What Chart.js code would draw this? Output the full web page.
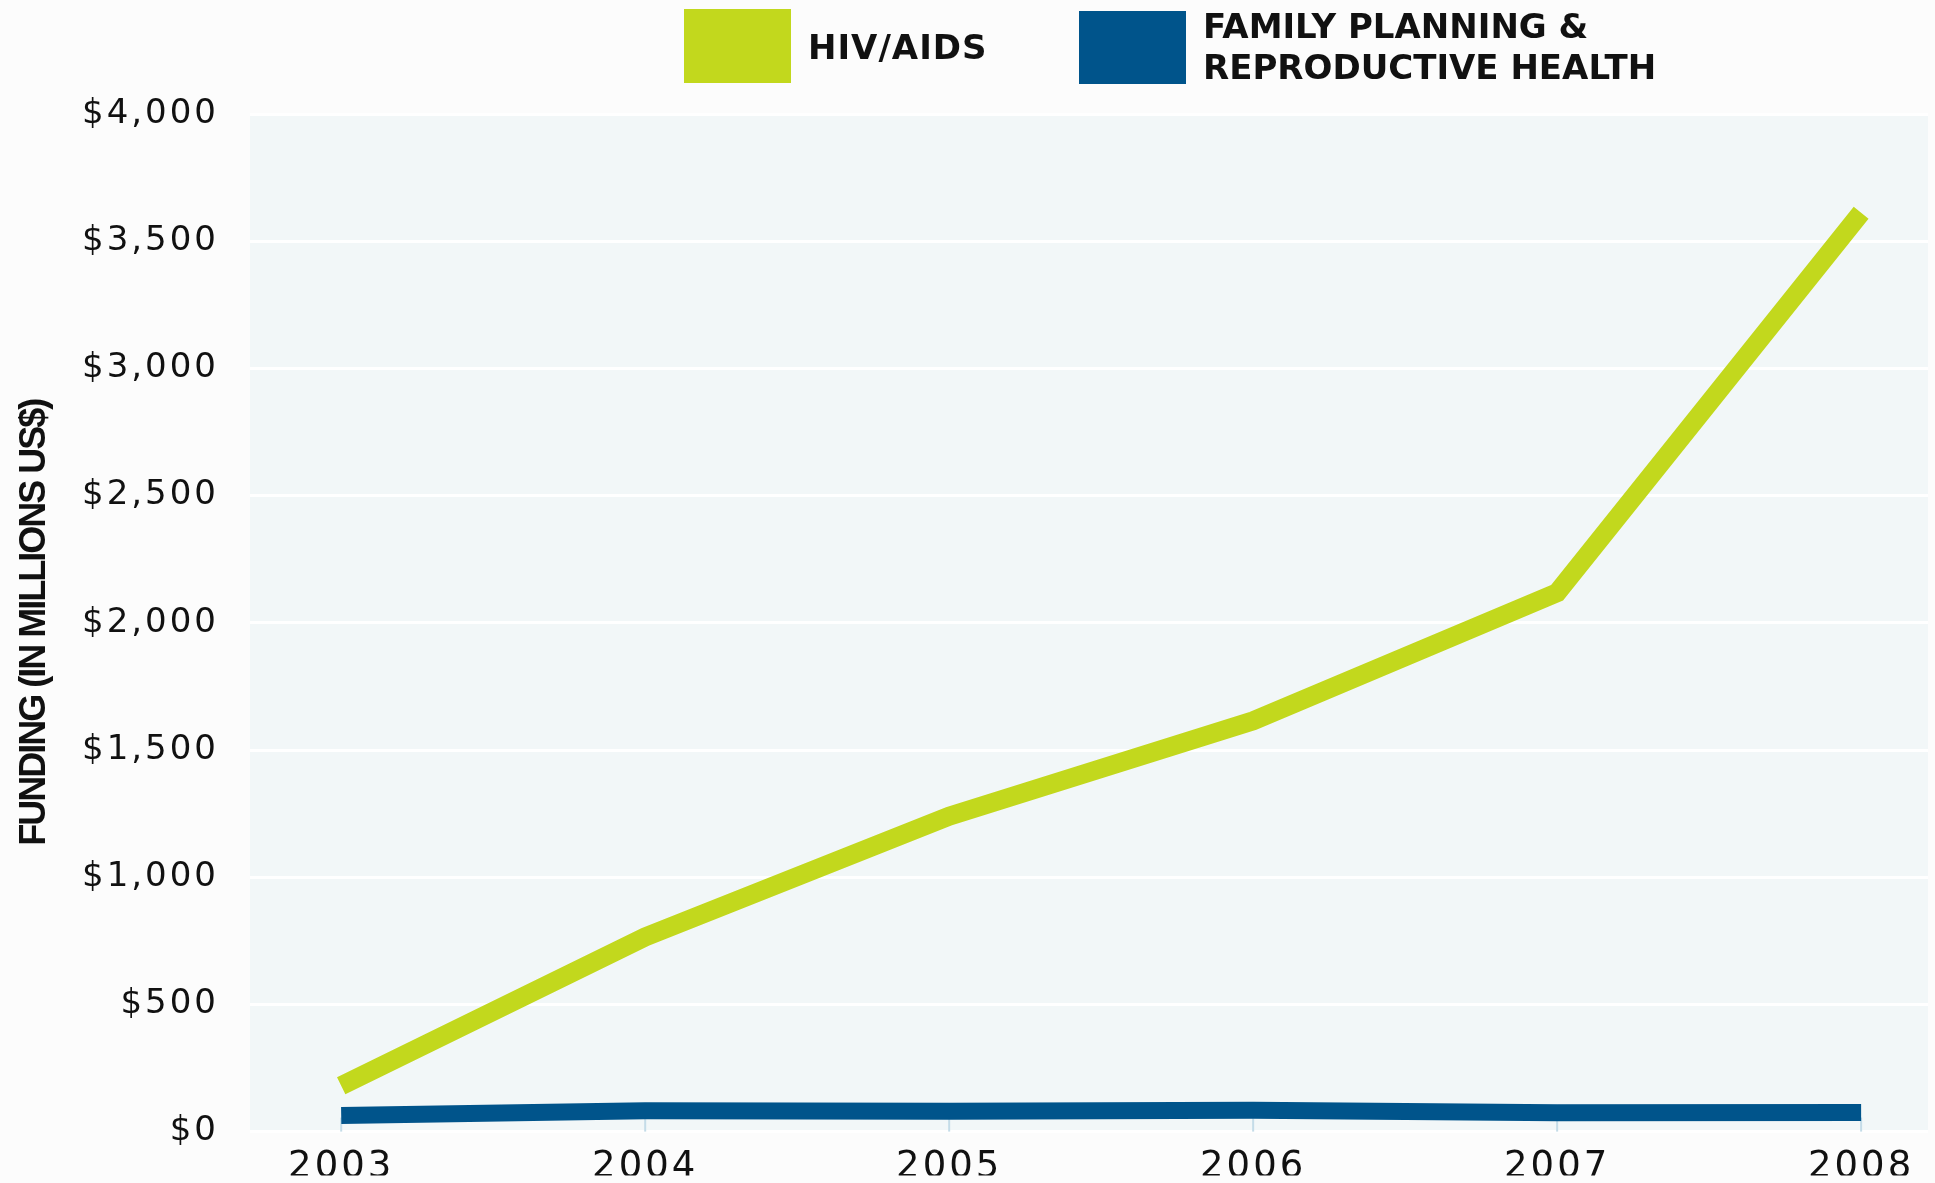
<!DOCTYPE html>
<html>
<head>
<meta charset="utf-8">
<script src="https://cdn.jsdelivr.net/npm/chart.js@4.4.1/dist/chart.umd.min.js"></script>
<style>
  html, body { margin: 0; padding: 0; background: #fcfcfc; }
  #wrap { position: relative; width: 1935px; height: 1183px; }
  .legend { position: absolute; font-family: "DejaVu Sans", sans-serif; font-weight: bold;
            font-size: 34px; color: #111; line-height: 41px; }
  .swatch { position: absolute; }
</style>
</head>
<body>
<div id="wrap">
  <canvas id="chart" width="1935" height="1183"></canvas>
  <div class="swatch" style="left:684px;top:9px;width:107px;height:74px;background:#c2d81d"></div>
  <div class="legend" style="left:808px;top:27px;letter-spacing:1px;">HIV/AIDS</div>
  <div class="swatch" style="left:1079px;top:11px;width:107px;height:73px;background:#00548b"></div>
  <div class="legend" style="left:1203px;top:6px;">FAMILY PLANNING &amp;<br>REPRODUCTIVE HEALTH</div>
</div>
<script>
const years = [2003, 2004, 2005, 2006, 2007, 2008];
const hivAids = [180, 765, 1240, 1615, 2118, 3612];
const familyPlanning = [63, 82, 80, 84, 74, 75];
const yTicks = [0, 500, 1000, 1500, 2000, 2500, 3000, 3500, 4000];

// light panel behind the plot plus the little year ticks at the bottom
const plotBg = {
  id: "plotBg",
  afterLayout(chart) {
    // tick fonts in the original are wider than anything installed, so space them out;
    // the axis title is a condensed face, so squeeze that one instead
    const s = chart.scales.y;
    if (!s._tightTitle) {
      const orig = s.drawTitle;
      s.drawTitle = function () {
        const c = this.ctx;
        const prev = c.letterSpacing;
        c.letterSpacing = "-2px";
        orig.call(this);
        c.letterSpacing = prev;
      };
      s._tightTitle = true;
    }
  },
  beforeDraw(chart) {
    const { ctx, chartArea: a } = chart;
    ctx.letterSpacing = "3px";
    ctx.save();
    ctx.fillStyle = "#f2f7f8";
    ctx.fillRect(a.left, a.top, a.right - a.left, a.bottom - a.top);
    ctx.restore();
  },
  beforeDatasetsDraw(chart) {
    const { ctx, chartArea: a, scales } = chart;
    ctx.save();
    ctx.strokeStyle = "#c4dce8";
    ctx.lineWidth = 2;
    years.forEach((yr) => {
      const x = scales.x.getPixelForValue(yr);
      ctx.beginPath();
      ctx.moveTo(x, a.bottom);
      ctx.lineTo(x, a.bottom - 14);
      ctx.stroke();
    });
    ctx.restore();
  },
};

new Chart(document.getElementById("chart").getContext("2d"), {
  type: "line",
  data: {
    datasets: [
      {
        label: "HIV/AIDS",
        data: years.map((y, i) => ({ x: y, y: hivAids[i] })),
        borderColor: "#c2d81d",
        borderWidth: 19,
        borderCapStyle: "butt",
        pointRadius: 0,
        tension: 0,
      },
      {
        label: "Family Planning & Reproductive Health",
        data: years.map((y, i) => ({ x: y, y: familyPlanning[i] })),
        borderColor: "#00548b",
        borderWidth: 17,
        borderCapStyle: "butt",
        pointRadius: 0,
        tension: 0,
      },
    ],
  },
  options: {
    responsive: false,
    animation: false,
    layout: { padding: { top: 114, right: 7, left: 0, bottom: 0 } },
    plugins: { legend: { display: false }, tooltip: { enabled: false } },
    scales: {
      x: {
        type: "linear",
        min: 2002.7,
        max: 2008.22,
        afterBuildTicks: (scale) => { scale.ticks = years.map((v) => ({ value: v })); },
        afterFit: (scale) => { scale.height = 44; },
        grid: { display: false },
        border: { display: false },
        ticks: {
          padding: 6,
          color: "#111",
          font: { family: "DejaVu Sans", size: 37 },
          callback: (v) => String(v),
        },
      },
      y: {
        min: 0,
        max: 4000,
        afterBuildTicks: (scale) => { scale.ticks = yTicks.map((v) => ({ value: v })); },
        afterFit: (scale) => { scale.width = 250; },
        grid: { color: "#ffffff", lineWidth: 3, drawTicks: false },
        border: { display: false },
        ticks: {
          padding: 31,
          color: "#111",
          font: { family: "DejaVu Sans", size: 34 },
          callback: (v) => "$" + v.toLocaleString("en-US"),
        },
        title: {
          display: true,
          text: "FUNDING (IN MILLIONS US$)",
          color: "#111",
          padding: { top: 13, bottom: 0 },
          font: { family: "'Liberation Sans', Arial, sans-serif", size: 36, weight: "bold" },
        },
      },
    },
  },
  plugins: [plotBg],
});
</script>
</body>
</html>
